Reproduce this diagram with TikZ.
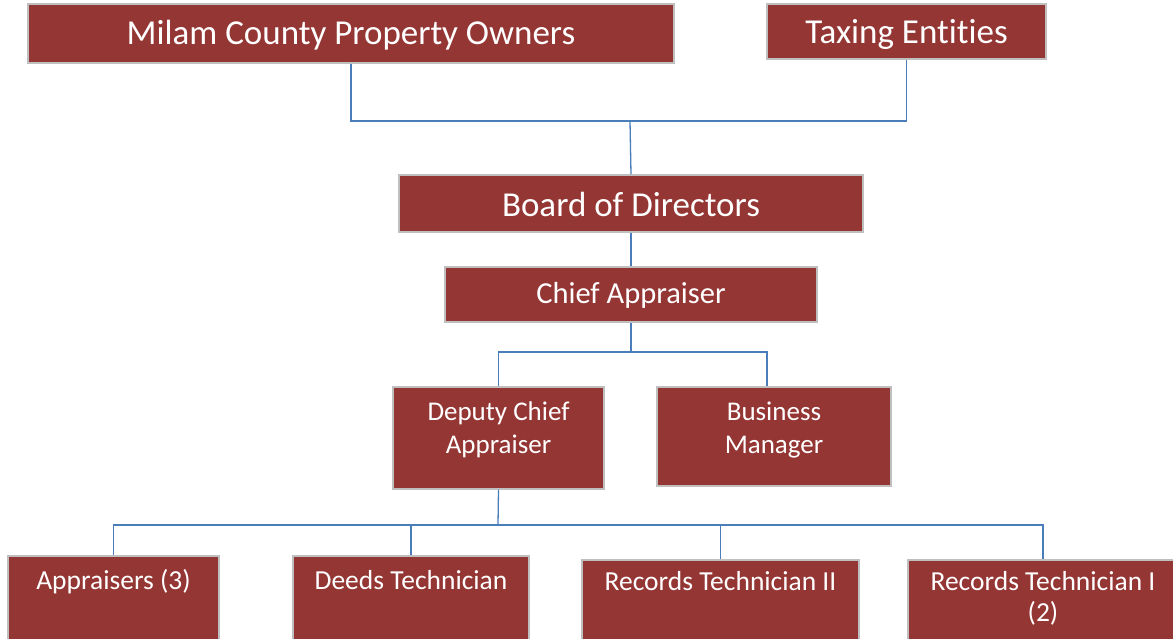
\documentclass[tikz,border=0pt]{standalone}
\usepackage{fontspec}
\setmainfont{Carlito}[Ligatures=NoCommon]
\usetikzlibrary{fit}
\definecolor{boxred}{RGB}{148,54,52}
\definecolor{boxedge}{RGB}{191,191,191}
\definecolor{linkblue}{RGB}{74,126,187}
\tikzset{
  box/.style={draw=boxedge, line width=1.5pt, fill=boxred, inner sep=0pt, text=white},
  txt/.style={text=white, inner sep=0pt, align=center},
  conn/.style={draw=linkblue, line width=1.3pt},
  big/.style={font=\fontsize{35}{42}\selectfont},
  mid/.style={font=\fontsize{30.5}{37}\selectfont},
  small/.style={font=\fontsize{27}{33}\selectfont},
  smallb/.style={font=\fontsize{27.5}{31.5}\selectfont}
}
\begin{document}
\begin{tikzpicture}[x=1pt,y=-1pt]
\useasboundingbox (0,0) rectangle (1173,639);
\clip (0,0) rectangle (1173,639);
\fill[white] (0,0) rectangle (1173,639);
% boxes
\node[box, fit={(28,4) (674,63)}] (milam) {};
\node[txt, big] (milamT) at ([yshift=-2pt]milam.center) {Milam County Property Owners};
\node[box, fit={(767,4) (1046,59)}] (taxing) {};
\node[txt, big] (taxingT) at ([yshift=-2.5pt]taxing.center) {Taxing Entities};
\node[box, fit={(399,175) (863,232)}] (board) {};
\node[txt, big] (boardT) at ([yshift=-1pt]board.center) {Board of Directors};
\node[box, fit={(445,267) (817,322)}] (chief) {};
\node[txt, mid] (chiefT) at ([yshift=-1pt]chief.center) {Chief Appraiser};
\node[box, fit={(393,387) (604,489)}] (deputy) {};
\node[txt, small] (deputyT) at ([yshift=-44pt]deputy.north) {Deputy Chief\\Appraiser};
\node[box, fit={(657,387) (891,486)}] (business) {};
\node[txt, small] (businessT) at ([yshift=-44pt]business.north) {Business\\Manager};
\node[box, fit={(8,556) (219,670)}] (appr) {};
\node[txt, smallb] (apprT) at ([yshift=-26.5pt]appr.north) {Appraisers (3)};
\node[box, fit={(293,556) (529,670)}] (deeds) {};
\node[txt, smallb] (deedsT) at ([yshift=-25pt]deeds.north) {Deeds Technician};
\node[box, fit={(582,560) (859,670)}] (rec2) {};
\node[txt, smallb] (rec2T) at ([yshift=-22pt]rec2.north) {Records Technician II};
\node[box, fit={(908,560) (1178,670)}] (rec1) {};
\node[txt, smallb] (rec1T) at ([yshift=-39pt]rec1.north) {Records Technician I\\(2)};
% junctions
\coordinate (j1) at (630,121);
\coordinate (j2) at (631,352);
\coordinate (j3) at (498,525);
% connectors
\draw[conn] (milam.south) |- (j1) -| (taxing.south);
\draw[conn] (j1) -- (board.north);
\draw[conn] (board.south) -- (chief.north);
\draw[conn] (chief.south) -- (j2);
\draw[conn] (deputy.north) |- (j2) -| ([xshift=-7pt]business.north);
\draw[conn] (deputy.south) -- (j3);
\draw[conn] (appr.north) |- (j3) -| (rec1.north);
\draw[conn] (deeds.north) -- (deeds.north |- j3);
\draw[conn] (rec2.north) -- (rec2.north |- j3);
\end{tikzpicture}
\end{document}
